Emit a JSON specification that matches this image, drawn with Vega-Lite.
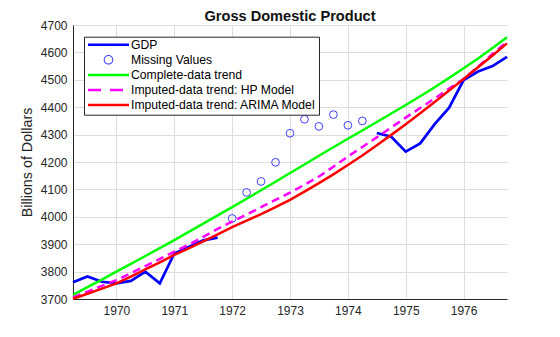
{
  "$schema": "https://vega.github.io/schema/vega-lite/v6.json",
  "width": 434,
  "height": 274,
  "autosize": "none",
  "padding": {"left": 73, "top": 25, "right": 53, "bottom": 38},
  "title": {"text": "Gross Domestic Product", "font": "Liberation Sans", "fontSize": 14.6, "fontWeight": "bold", "color": "#111111", "offset": 4.6, "dy": 9, "anchor": "middle", "frame": "group"},
  "config": {
    "view": {"stroke": null},
    "axis": {"labelFont": "Liberation Sans", "labelFontSize": 12, "labelColor": "#262626", "titleFont": "Liberation Sans", "titleColor": "#262626", "titleFontWeight": "normal", "domainColor": "#262626", "domainWidth": 1, "gridColor": "#dedede", "gridWidth": 1, "ticks": false, "labelPadding": 6}
  },
  "data": {"values": [
    {"quarter": 1969.25, "series": "GDP", "value": 3761},
    {"quarter": 1969.5, "series": "GDP", "value": 3782},
    {"quarter": 1969.75, "series": "GDP", "value": 3763},
    {"quarter": 1970, "series": "GDP", "value": 3757},
    {"quarter": 1970.25, "series": "GDP", "value": 3766},
    {"quarter": 1970.5, "series": "GDP", "value": 3800},
    {"quarter": 1970.75, "series": "GDP", "value": 3757},
    {"quarter": 1971, "series": "GDP", "value": 3866},
    {"quarter": 1971.25, "series": "GDP", "value": 3890},
    {"quarter": 1971.5, "series": "GDP", "value": 3914},
    {"quarter": 1971.75, "series": "GDP", "value": 3924},
    {"quarter": 1972, "series": "GDP", "value": null},
    {"quarter": 1972.25, "series": "GDP", "value": null},
    {"quarter": 1972.5, "series": "GDP", "value": null},
    {"quarter": 1972.75, "series": "GDP", "value": null},
    {"quarter": 1973, "series": "GDP", "value": null},
    {"quarter": 1973.25, "series": "GDP", "value": null},
    {"quarter": 1973.5, "series": "GDP", "value": null},
    {"quarter": 1973.75, "series": "GDP", "value": null},
    {"quarter": 1974, "series": "GDP", "value": null},
    {"quarter": 1974.25, "series": "GDP", "value": null},
    {"quarter": 1974.5, "series": "GDP", "value": 4306},
    {"quarter": 1974.75, "series": "GDP", "value": 4292},
    {"quarter": 1975, "series": "GDP", "value": 4238},
    {"quarter": 1975.25, "series": "GDP", "value": 4268},
    {"quarter": 1975.5, "series": "GDP", "value": 4338},
    {"quarter": 1975.75, "series": "GDP", "value": 4398},
    {"quarter": 1976, "series": "GDP", "value": 4499},
    {"quarter": 1976.25, "series": "GDP", "value": 4530},
    {"quarter": 1976.5, "series": "GDP", "value": 4550},
    {"quarter": 1976.75, "series": "GDP", "value": 4584},
    {"quarter": 1972, "series": "Missing Values", "value": 3994},
    {"quarter": 1972.25, "series": "Missing Values", "value": 4089},
    {"quarter": 1972.5, "series": "Missing Values", "value": 4129},
    {"quarter": 1972.75, "series": "Missing Values", "value": 4199},
    {"quarter": 1973, "series": "Missing Values", "value": 4305},
    {"quarter": 1973.25, "series": "Missing Values", "value": 4356},
    {"quarter": 1973.5, "series": "Missing Values", "value": 4330},
    {"quarter": 1973.75, "series": "Missing Values", "value": 4373},
    {"quarter": 1974, "series": "Missing Values", "value": 4334},
    {"quarter": 1974.25, "series": "Missing Values", "value": 4350},
    {"quarter": 1969.25, "series": "Complete-data trend", "value": 3715},
    {"quarter": 1969.5, "series": "Complete-data trend", "value": 3743},
    {"quarter": 1969.75, "series": "Complete-data trend", "value": 3771},
    {"quarter": 1970, "series": "Complete-data trend", "value": 3800},
    {"quarter": 1970.25, "series": "Complete-data trend", "value": 3828},
    {"quarter": 1970.5, "series": "Complete-data trend", "value": 3857},
    {"quarter": 1970.75, "series": "Complete-data trend", "value": 3886},
    {"quarter": 1971, "series": "Complete-data trend", "value": 3915},
    {"quarter": 1971.25, "series": "Complete-data trend", "value": 3945},
    {"quarter": 1971.5, "series": "Complete-data trend", "value": 3975},
    {"quarter": 1971.75, "series": "Complete-data trend", "value": 4005},
    {"quarter": 1972, "series": "Complete-data trend", "value": 4035},
    {"quarter": 1972.25, "series": "Complete-data trend", "value": 4066},
    {"quarter": 1972.5, "series": "Complete-data trend", "value": 4097},
    {"quarter": 1972.75, "series": "Complete-data trend", "value": 4128},
    {"quarter": 1973, "series": "Complete-data trend", "value": 4160},
    {"quarter": 1973.25, "series": "Complete-data trend", "value": 4191},
    {"quarter": 1973.5, "series": "Complete-data trend", "value": 4223},
    {"quarter": 1973.75, "series": "Complete-data trend", "value": 4254},
    {"quarter": 1974, "series": "Complete-data trend", "value": 4285},
    {"quarter": 1974.25, "series": "Complete-data trend", "value": 4315},
    {"quarter": 1974.5, "series": "Complete-data trend", "value": 4346},
    {"quarter": 1974.75, "series": "Complete-data trend", "value": 4377},
    {"quarter": 1975, "series": "Complete-data trend", "value": 4408},
    {"quarter": 1975.25, "series": "Complete-data trend", "value": 4440},
    {"quarter": 1975.5, "series": "Complete-data trend", "value": 4473},
    {"quarter": 1975.75, "series": "Complete-data trend", "value": 4507},
    {"quarter": 1976, "series": "Complete-data trend", "value": 4542},
    {"quarter": 1976.25, "series": "Complete-data trend", "value": 4578},
    {"quarter": 1976.5, "series": "Complete-data trend", "value": 4616},
    {"quarter": 1976.75, "series": "Complete-data trend", "value": 4655},
    {"quarter": 1969.25, "series": "Imputed-data trend: HP Model", "value": 3706},
    {"quarter": 1969.5, "series": "Imputed-data trend: HP Model", "value": 3727},
    {"quarter": 1969.75, "series": "Imputed-data trend: HP Model", "value": 3748},
    {"quarter": 1970, "series": "Imputed-data trend: HP Model", "value": 3769},
    {"quarter": 1970.25, "series": "Imputed-data trend: HP Model", "value": 3794},
    {"quarter": 1970.5, "series": "Imputed-data trend: HP Model", "value": 3820},
    {"quarter": 1970.75, "series": "Imputed-data trend: HP Model", "value": 3846},
    {"quarter": 1971, "series": "Imputed-data trend: HP Model", "value": 3873},
    {"quarter": 1971.25, "series": "Imputed-data trend: HP Model", "value": 3898},
    {"quarter": 1971.5, "series": "Imputed-data trend: HP Model", "value": 3927},
    {"quarter": 1971.75, "series": "Imputed-data trend: HP Model", "value": 3956},
    {"quarter": 1972, "series": "Imputed-data trend: HP Model", "value": 3982},
    {"quarter": 1972.25, "series": "Imputed-data trend: HP Model", "value": 4008},
    {"quarter": 1972.5, "series": "Imputed-data trend: HP Model", "value": 4035},
    {"quarter": 1972.75, "series": "Imputed-data trend: HP Model", "value": 4062},
    {"quarter": 1973, "series": "Imputed-data trend: HP Model", "value": 4088},
    {"quarter": 1973.25, "series": "Imputed-data trend: HP Model", "value": 4117},
    {"quarter": 1973.5, "series": "Imputed-data trend: HP Model", "value": 4147},
    {"quarter": 1973.75, "series": "Imputed-data trend: HP Model", "value": 4183},
    {"quarter": 1974, "series": "Imputed-data trend: HP Model", "value": 4220},
    {"quarter": 1974.25, "series": "Imputed-data trend: HP Model", "value": 4255},
    {"quarter": 1974.5, "series": "Imputed-data trend: HP Model", "value": 4290},
    {"quarter": 1974.75, "series": "Imputed-data trend: HP Model", "value": 4326},
    {"quarter": 1975, "series": "Imputed-data trend: HP Model", "value": 4362},
    {"quarter": 1975.25, "series": "Imputed-data trend: HP Model", "value": 4397},
    {"quarter": 1975.5, "series": "Imputed-data trend: HP Model", "value": 4432},
    {"quarter": 1975.75, "series": "Imputed-data trend: HP Model", "value": 4468},
    {"quarter": 1976, "series": "Imputed-data trend: HP Model", "value": 4503},
    {"quarter": 1976.25, "series": "Imputed-data trend: HP Model", "value": 4548},
    {"quarter": 1976.5, "series": "Imputed-data trend: HP Model", "value": 4594},
    {"quarter": 1976.75, "series": "Imputed-data trend: HP Model", "value": 4640},
    {"quarter": 1969.25, "series": "Imputed-data trend: ARIMA Model", "value": 3701},
    {"quarter": 1969.5, "series": "Imputed-data trend: ARIMA Model", "value": 3719},
    {"quarter": 1969.75, "series": "Imputed-data trend: ARIMA Model", "value": 3738},
    {"quarter": 1970, "series": "Imputed-data trend: ARIMA Model", "value": 3757},
    {"quarter": 1970.25, "series": "Imputed-data trend: ARIMA Model", "value": 3782},
    {"quarter": 1970.5, "series": "Imputed-data trend: ARIMA Model", "value": 3808},
    {"quarter": 1970.75, "series": "Imputed-data trend: ARIMA Model", "value": 3834},
    {"quarter": 1971, "series": "Imputed-data trend: ARIMA Model", "value": 3861},
    {"quarter": 1971.25, "series": "Imputed-data trend: ARIMA Model", "value": 3885},
    {"quarter": 1971.5, "series": "Imputed-data trend: ARIMA Model", "value": 3910},
    {"quarter": 1971.75, "series": "Imputed-data trend: ARIMA Model", "value": 3936},
    {"quarter": 1972, "series": "Imputed-data trend: ARIMA Model", "value": 3962},
    {"quarter": 1972.25, "series": "Imputed-data trend: ARIMA Model", "value": 3986},
    {"quarter": 1972.5, "series": "Imputed-data trend: ARIMA Model", "value": 4010},
    {"quarter": 1972.75, "series": "Imputed-data trend: ARIMA Model", "value": 4035},
    {"quarter": 1973, "series": "Imputed-data trend: ARIMA Model", "value": 4062},
    {"quarter": 1973.25, "series": "Imputed-data trend: ARIMA Model", "value": 4092},
    {"quarter": 1973.5, "series": "Imputed-data trend: ARIMA Model", "value": 4123},
    {"quarter": 1973.75, "series": "Imputed-data trend: ARIMA Model", "value": 4155},
    {"quarter": 1974, "series": "Imputed-data trend: ARIMA Model", "value": 4189},
    {"quarter": 1974.25, "series": "Imputed-data trend: ARIMA Model", "value": 4224},
    {"quarter": 1974.5, "series": "Imputed-data trend: ARIMA Model", "value": 4261},
    {"quarter": 1974.75, "series": "Imputed-data trend: ARIMA Model", "value": 4299},
    {"quarter": 1975, "series": "Imputed-data trend: ARIMA Model", "value": 4338},
    {"quarter": 1975.25, "series": "Imputed-data trend: ARIMA Model", "value": 4378},
    {"quarter": 1975.5, "series": "Imputed-data trend: ARIMA Model", "value": 4419},
    {"quarter": 1975.75, "series": "Imputed-data trend: ARIMA Model", "value": 4461},
    {"quarter": 1976, "series": "Imputed-data trend: ARIMA Model", "value": 4503},
    {"quarter": 1976.25, "series": "Imputed-data trend: ARIMA Model", "value": 4546},
    {"quarter": 1976.5, "series": "Imputed-data trend: ARIMA Model", "value": 4589},
    {"quarter": 1976.75, "series": "Imputed-data trend: ARIMA Model", "value": 4633}
  ]},
  "encoding": {
    "x": {"field": "quarter", "type": "quantitative",
      "scale": {"domain": [1969.25, 1976.75], "nice": false, "zero": false},
      "axis": {"values": [1970, 1971, 1972, 1973, 1974, 1975, 1976], "format": "d", "title": null, "grid": true, "labelFlush": false}},
    "y": {"field": "value", "type": "quantitative",
      "scale": {"domain": [3700, 4700], "nice": false, "zero": false},
      "axis": {"values": [3700, 3800, 3900, 4000, 4100, 4200, 4300, 4400, 4500, 4600, 4700], "format": "d", "title": "Billions of Dollars", "titleFontSize": 14.3, "titlePadding": 6, "grid": true, "labelFlush": false}},
    "color": {"field": "series", "type": "nominal",
      "scale": {"domain": ["GDP", "Missing Values", "Complete-data trend", "Imputed-data trend: HP Model", "Imputed-data trend: ARIMA Model"],
                "range": ["#0000ff", "#4040ff", "#00ff00", "#ff00ff", "#ff0000"]},
      "legend": {
        "title": null, "orient": "none", "legendX": 11, "legendY": 11.7,
        "fillColor": "#ffffff", "strokeColor": "#262626", "padding": 2.5, "cornerRadius": 0,
        "labelFont": "Liberation Sans", "labelFontSize": 12.2, "labelColor": "#000000", "labelLimit": 400,
        "symbolType": "stroke", "symbolSize": 1681, "symbolStrokeWidth": 2.5,
        "clipHeight": 11, "rowPadding": 2.1, "labelOffset": 0.5,
        "encoding": {
          "symbols": {
            "shape": {"value": {"expr": "datum.value === 'Missing Values' ? 'M0.234,0A0.234,0.234,0,1,1,-0.234,0A0.234,0.234,0,1,1,0.234,0ZM0.185,0A0.185,0.185,0,1,0,-0.185,0A0.185,0.185,0,1,0,0.185,0Z' : 'stroke'"}},
            "fill": {"value": {"expr": "datum.value === 'Missing Values' ? '#4040ff' : 'transparent'"}},
            "strokeOpacity": {"value": {"expr": "datum.value === 'Missing Values' ? 0 : 1"}},
            "strokeDash": {"value": {"expr": "datum.value === 'Imputed-data trend: HP Model' ? [13, 9] : [1, 0]"}},
            "opacity": {"value": 1}
          }
        }
      }}
  },
  "layer": [
    {"transform": [{"filter": "datum.series === 'GDP'"}], "mark": {"type": "line", "strokeWidth": 2.7}},
    {"transform": [{"filter": "datum.series === 'Missing Values'"}], "mark": {"type": "point", "shape": "circle", "filled": false, "size": 60, "strokeWidth": 1, "opacity": 1}},
    {"transform": [{"filter": "datum.series === 'Complete-data trend'"}], "mark": {"type": "line", "strokeWidth": 2.5}},
    {"transform": [{"filter": "datum.series === 'Imputed-data trend: HP Model'"}], "mark": {"type": "line", "strokeWidth": 2.5, "strokeDash": [8, 5]}},
    {"transform": [{"filter": "datum.series === 'Imputed-data trend: ARIMA Model'"}], "mark": {"type": "line", "strokeWidth": 2.5}}
  ]
}
